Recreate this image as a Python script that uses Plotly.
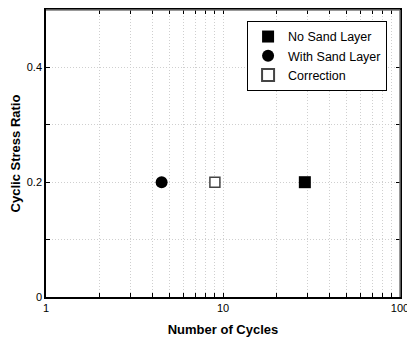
import plotly.graph_objects as go

# Data
series_names = ["No Sand Layer", "With Sand Layer", "Correction"]
cycles = [29, 4.5, 9]
csr = [0.2, 0.2, 0.2]

x_tickvals = [1, 2, 3, 4, 5, 6, 7, 8, 9, 10, 20, 30, 40, 50, 60, 70, 80, 90, 100]
x_ticktext = ["1", "", "", "", "", "", "", "", "", "10", "", "", "", "", "", "", "", "", "100"]
y_tickvals = [0, 0.1, 0.2, 0.3, 0.4, 0.5]
y_ticktext = ["0", "", "0.2", "", "0.4", ""]

styles = [
    dict(symbol="square", size=12, color="black", line=dict(color="black", width=0)),
    dict(symbol="circle", size=12, color="black", line=dict(color="black", width=0)),
    dict(symbol="square", size=10, color="white", line=dict(color="#444", width=1.5)),
]

fig = go.Figure()
for i, name in enumerate(series_names):
    fig.add_trace(go.Scatter(
        x=[cycles[i]], y=[csr[i]], mode="markers", name=name,
        marker=styles[i],
    ))

font = "Liberation Sans, Arial, sans-serif"
grid = dict(showgrid=True, gridcolor="#cfcfcf", griddash="1px,2px", gridwidth=1)
fig.update_layout(
    width=407, height=338,
    margin=dict(l=46, r=7, t=10, b=41, autoexpand=False),
    paper_bgcolor="white", plot_bgcolor="white",
    font=dict(family=font, size=11, color="black"),
    showlegend=True,
    legend=dict(
        x=0.568, y=0.962, xanchor="left", yanchor="top",
        bordercolor="black", borderwidth=1, bgcolor="white",
        font=dict(size=12.5, family=font, color="black"),
        tracegroupgap=0, itemwidth=30, itemsizing="constant",
    ),
    xaxis=dict(
        type="log", range=[0, 2], automargin=False,
        tickvals=x_tickvals, ticktext=x_ticktext,
        ticklabeloverflow="allow",
        ticks="inside", ticklen=4, tickcolor="black",
        showline=True, linecolor="black", linewidth=1.5, mirror="ticks",
        zeroline=False,
        title=dict(text="<b>Number of Cycles</b>", font=dict(size=13, family=font), standoff=12),
        tickfont=dict(size=11),
        **grid,
    ),
    yaxis=dict(
        range=[0, 0.5], automargin=False,
        tickvals=y_tickvals, ticktext=y_ticktext,
        ticks="inside", ticklen=4, tickcolor="black",
        showline=True, linecolor="black", linewidth=1.5, mirror="ticks",
        zeroline=False,
        title=dict(text="<b>Cyclic Stress Ratio</b>", font=dict(size=13, family=font), standoff=3),
        tickfont=dict(size=11),
        **grid,
    ),
)

# softer top/right frame lines as in the reference
fig.add_shape(type="line", xref="paper", yref="paper", x0=0, x1=1, y0=1, y1=1,
              line=dict(color="#777", width=1.5))
fig.add_shape(type="line", xref="paper", yref="paper", x0=1, x1=1, y0=0, y1=1,
              line=dict(color="#777", width=1.5))

fig.write_html("out.html")
